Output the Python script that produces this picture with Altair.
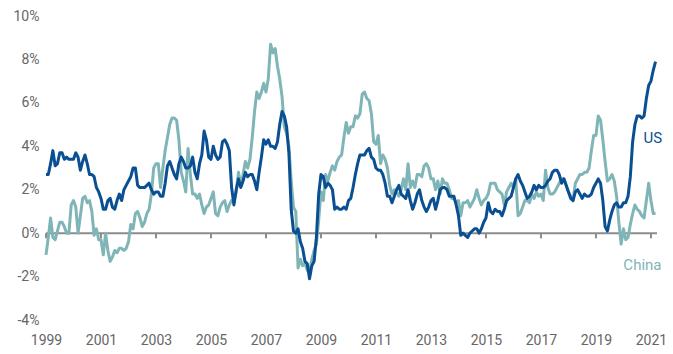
import altair as alt
import pandas as pd

# Monthly year-over-year inflation (%), Dec-1999 .. Feb-2022
us = [2.7,
      2.7, 3.2, 3.8, 3.1, 3.2, 3.7, 3.7, 3.4, 3.5, 3.4, 3.4, 3.4,
      3.7, 3.5, 2.9, 3.3, 3.6, 3.2, 2.7, 2.7, 2.6, 2.1, 1.9, 1.6,
      1.1, 1.1, 1.5, 1.6, 1.2, 1.1, 1.5, 1.8, 1.5, 2.0, 2.2, 2.4,
      2.6, 3.0, 3.0, 2.2, 2.1, 2.1, 2.1, 2.2, 2.3, 2.0, 1.8, 1.9,
      1.9, 1.7, 1.7, 2.3, 3.1, 3.3, 3.0, 2.7, 2.5, 3.2, 3.5, 3.3,
      3.0, 3.0, 3.1, 3.5, 2.8, 2.5, 3.2, 3.6, 4.7, 4.3, 3.5, 3.4,
      4.0, 3.6, 3.4, 3.5, 4.2, 4.3, 4.1, 3.8, 2.1, 1.3, 2.0, 2.5,
      2.1, 2.4, 2.8, 2.6, 2.7, 2.7, 2.4, 2.0, 2.8, 3.5, 4.3, 4.1,
      4.3, 4.0, 4.0, 3.9, 4.2, 5.0, 5.6, 5.4, 4.9, 3.7, 1.1, 0.1,
      0.0, 0.2, -0.4, -0.7, -1.3, -1.4, -2.1, -1.5, -1.3, -0.2, 1.8, 2.7,
      2.6, 2.1, 2.3, 2.2, 2.0, 1.1, 1.2, 1.1, 1.1, 1.2, 1.1, 1.5,
      1.6, 2.1, 2.7, 3.2, 3.6, 3.6, 3.6, 3.8, 3.9, 3.5, 3.4, 3.0,
      2.9, 2.9, 2.7, 2.3, 1.7, 1.7, 1.4, 1.7, 2.0, 2.2, 1.8, 1.7,
      1.6, 2.0, 1.5, 1.1, 1.4, 1.8, 2.0, 1.5, 1.2, 1.0, 1.2, 1.5,
      1.6, 1.1, 1.5, 2.0, 2.1, 2.1, 2.0, 1.7, 1.7, 1.7, 1.3, 0.8,
      -0.1, 0.0, -0.1, -0.2, 0.0, 0.1, 0.2, 0.2, 0.0, 0.2, 0.5, 0.7,
      1.4, 1.0, 0.9, 1.1, 1.0, 1.0, 0.8, 1.1, 1.5, 1.6, 1.7, 2.1,
      2.5, 2.7, 2.4, 2.2, 1.9, 1.6, 1.7, 1.9, 2.2, 2.0, 2.2, 2.1,
      2.1, 2.2, 2.4, 2.5, 2.8, 2.9, 2.9, 2.7, 2.3, 2.5, 2.2, 1.9,
      1.6, 1.5, 1.9, 2.0, 1.8, 1.6, 1.8, 1.7, 1.7, 1.8, 2.1, 2.3,
      2.5, 2.3, 1.5, 0.3, 0.1, 0.6, 1.0, 1.3, 1.4, 1.2, 1.2, 1.4,
      1.4, 1.7, 2.6, 4.2, 5.0, 5.4, 5.4, 5.3, 5.4, 6.2, 6.8, 7.0,
      7.5, 7.9]

china = [-1.0,
         -0.2, 0.7, -0.2, -0.3, 0.1, 0.5, 0.5, 0.3, 0.0, 0.0, 1.3, 1.5,
         1.2, 0.0, 0.8, 1.6, 1.7, 1.4, 1.5, 1.0, -0.1, 0.2, -0.3, -0.3,
         -1.0, 0.0, -0.8, -1.3, -1.1, -0.8, -0.9, -0.7, -0.7, -0.8, -0.7, -0.4,
         0.4, 0.2, 0.9, 1.0, 0.7, 0.3, 0.5, 0.9, 1.1, 1.8, 3.0, 3.2,
         3.2, 2.1, 3.0, 3.8, 4.4, 5.0, 5.3, 5.3, 5.2, 4.3, 2.8, 2.4,
         1.9, 3.9, 2.7, 1.8, 1.8, 1.6, 1.8, 1.3, 0.9, 1.2, 1.3, 1.6,
         1.9, 0.9, 0.8, 1.2, 1.4, 1.5, 1.0, 1.3, 1.5, 1.4, 1.9, 2.8,
         2.2, 2.7, 3.3, 3.0, 3.4, 4.4, 5.6, 6.5, 6.2, 6.5, 6.9, 6.5,
         7.1, 8.7, 8.3, 8.5, 7.7, 7.1, 6.3, 4.9, 4.6, 4.0, 2.4, 1.2,
         1.0, -1.6, -1.2, -1.5, -1.4, -1.7, -1.8, -1.2, -0.8, -0.5, 0.6, 1.9,
         1.5, 2.7, 2.4, 2.8, 3.1, 2.9, 3.3, 3.5, 3.6, 4.4, 5.1, 4.6,
         4.9, 4.9, 5.4, 5.3, 5.5, 6.4, 6.5, 6.2, 6.1, 5.5, 4.2, 4.1,
         4.5, 3.2, 3.6, 3.4, 3.0, 2.2, 1.8, 2.0, 1.9, 1.7, 2.0, 2.5,
         2.0, 3.2, 2.1, 2.4, 2.1, 2.7, 2.7, 2.6, 3.1, 3.2, 3.0, 2.5,
         2.5, 2.0, 2.4, 1.8, 2.5, 2.3, 2.3, 2.0, 1.6, 1.6, 1.4, 1.5,
         0.8, 1.4, 1.4, 1.5, 1.2, 1.4, 1.6, 2.0, 1.6, 1.3, 1.5, 1.6,
         1.8, 2.3, 2.3, 2.3, 2.0, 1.9, 1.8, 1.3, 1.9, 2.1, 2.3, 2.1,
         2.5, 0.8, 0.9, 1.2, 1.5, 1.5, 1.4, 1.8, 1.6, 1.9, 1.7, 1.8,
         1.5, 2.9, 2.1, 1.8, 1.8, 1.9, 2.1, 2.3, 2.5, 2.5, 2.2, 1.9,
         1.7, 1.5, 2.3, 2.5, 2.7, 2.7, 2.8, 2.8, 3.0, 3.8, 4.5, 4.5,
         5.4, 5.2, 4.3, 3.3, 2.4, 2.5, 2.7, 2.4, 1.7, 0.5, -0.5, 0.2,
         -0.3, -0.2, 0.4, 0.9, 1.3, 1.1, 1.0, 0.8, 0.7, 1.5, 2.3, 1.5,
         0.9, 0.9]

tick_years = [1999, 2001, 2003, 2005, 2007, 2009, 2011, 2013, 2015, 2017, 2019, 2021]
y_ticks = [-4, -2, 0, 2, 4, 6, 8, 10]
series_names = ["US", "China"]
label_t = [2021.07, 2020.69]
label_v = [4.36, -1.49]

US_COLOR = "#0b4f93"
CN_COLOR = "#80b5b8"
FONT = "Roboto"

n = len(us)
t = [1999 + i / 12 for i in range(n)]
df_us = pd.DataFrame({"t": t, "value": us})
df_cn = pd.DataFrame({"t": t, "value": china})
df_ticks = pd.DataFrame({"t": tick_years})
df_lab = pd.DataFrame({"t": label_t, "value": label_v, "series": series_names})

xscale = alt.Scale(domain=[1999, 2021.22], nice=False, zero=False)
yscale = alt.Scale(domain=[-4, 10], nice=False, zero=False)

x_enc = alt.X("t:Q", scale=xscale,
              axis=alt.Axis(values=tick_years, format="d", grid=False, domain=False,
                            ticks=False, title=None, labelPadding=13,
                            labelFontSize=14, labelColor="#666666", labelFont=FONT,
                            labelFlush=False, labelOverlap=False))
y_enc = alt.Y("value:Q", scale=yscale,
              axis=alt.Axis(values=y_ticks, labelExpr="datum.value + '%'", grid=False,
                            domain=False, ticks=False, title=None, labelPadding=7,
                            labelFontSize=14, labelColor="#666666", labelFont=FONT,
                            labelFlush=False, labelOverlap=False))

zero = alt.Chart(pd.DataFrame({"value": [0]})).mark_rule(
    color="#8c8c8c", strokeWidth=2).encode(y=alt.Y("value:Q", scale=yscale))

ticks = alt.Chart(df_ticks).mark_rule(color="#8c8c8c", strokeWidth=2).encode(
    x=alt.X("t:Q", scale=xscale),
    y=alt.YDatum(0),
    y2=alt.Y2Datum(-0.24),
)

line_cn = alt.Chart(df_cn).mark_line(color=CN_COLOR, strokeWidth=3, strokeJoin="round").encode(
    x=x_enc, y=y_enc)
line_us = alt.Chart(df_us).mark_line(color=US_COLOR, strokeWidth=3, strokeJoin="round").encode(
    x=alt.X("t:Q", scale=xscale), y=alt.Y("value:Q", scale=yscale))

labels = alt.Chart(df_lab).mark_text(font=FONT, fontSize=15, align="center", baseline="middle").encode(
    x=alt.X("t:Q", scale=xscale),
    y=alt.Y("value:Q", scale=yscale),
    text="series:N",
    color=alt.Color("series:N", scale=alt.Scale(domain=series_names, range=[US_COLOR, CN_COLOR]), legend=None),
)

chart = alt.layer(zero, ticks, line_cn, line_us, labels).properties(
    width=611, height=304,
    padding={"left": 46, "top": 16, "right": 16, "bottom": 34},
    autosize=alt.AutoSizeParams(type="none"),
    background="white",
).configure_view(stroke=None)

chart.save("out.html", embed_options={"renderer": "svg", "actions": False})
